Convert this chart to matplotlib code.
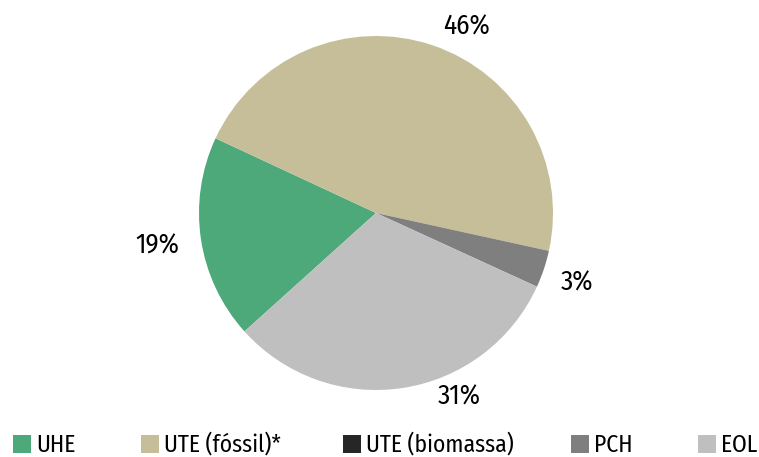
import matplotlib
matplotlib.use("Agg")
import matplotlib.pyplot as plt
from matplotlib.patches import Rectangle
from matplotlib import font_manager

categories = ["UHE", "UTE (fóssil)*", "UTE (biomassa)", "PCH", "EOL"]
values = [18.6, 46.5, 0.0, 3.4, 31.5]
pct_labels = ["19%", "46%", "", "3%", "31%"]
colors = ["#4EA97A", "#C5BE98", "#262626", "#7F7F7F", "#BFBFBF"]
# label positions (pie radius units)
label_xy = [(-1.237, -0.186), (0.514, 1.051), None, (1.136, -0.395), (0.469, -1.040)]
# legend entry left edges (pixels)
legend_x = [13, 141, 343, 571, 698]

fl = font_manager.fontManager.ttflist
names = {f.name for f in fl}
fam = ["DejaVu Sans"]
for cand in ["Fira Sans Condensed", "PT Sans Narrow"]:
    if cand in names:
        fam = [cand, "DejaVu Sans"]
        break
plt.rcParams['font.family'] = fam

W, H = 759, 457
fig = plt.figure(figsize=(W / 100, H / 100), dpi=100)
cx, cy, r = 376, 213, 177
ax = fig.add_axes([(cx - r) / W, (H - cy - r) / H, 2 * r / W, 2 * r / H])
wedges, _ = ax.pie(values, colors=colors, startangle=222, counterclock=False,
                   radius=1.0, wedgeprops=dict(linewidth=0))
ax.set_xlim(-1, 1)
ax.set_ylim(-1, 1)
for lab, xy in zip(pct_labels, label_xy):
    if xy is None or not lab:
        continue
    ax.text(xy[0], xy[1], lab, ha="center", va="center", fontsize=19.5,
            color="#000000", clip_on=False)

sq = 18
for x0, c, name in zip(legend_x, colors, categories):
    fig.add_artist(Rectangle((x0 / W, (H - 453) / H), sq / W, sq / H,
                             transform=fig.transFigure, facecolor=c, edgecolor="none"))
    fig.text((x0 + sq + 5) / W, (H - 452) / H, name, ha="left", va="baseline",
             fontsize=17, color="#000000")

fig.savefig("out.png", dpi=100)
